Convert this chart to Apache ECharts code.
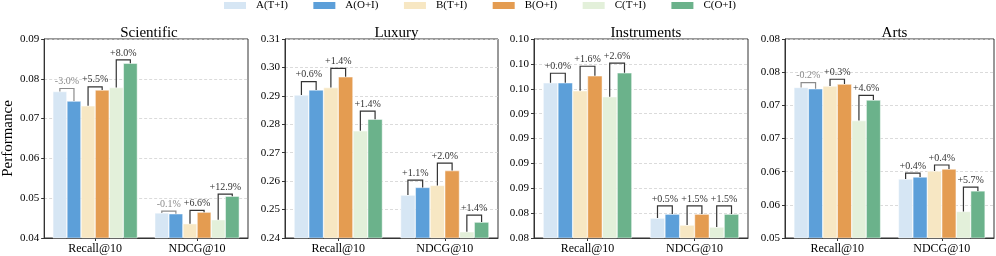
<!DOCTYPE html>
<html>
<head>
<meta charset="utf-8">
<script src="https://cdn.jsdelivr.net/npm/echarts@6/dist/echarts.min.js"></script>
<style>
html,body{margin:0;padding:0;background:#fff;}
#chart{width:996px;height:256px;}
</style>
</head>
<body>
<div id="chart"></div>
<script>
// ---- data ----
const categories = ['Recall@10', 'NDCG@10'];
const seriesNames = ['A(T+I)', 'A(O+I)', 'B(T+I)', 'B(O+I)', 'C(T+I)', 'C(O+I)'];
const panelTitles = ['Scientific', 'Luxury', 'Instruments', 'Arts'];

const sciRecall = [0.0768, 0.0744, 0.0732, 0.0772, 0.0778, 0.0839];
const sciNdcg   = [0.0463, 0.0461, 0.0436, 0.0465, 0.0446, 0.0505];
const luxRecall = [0.2903, 0.2921, 0.2929, 0.2967, 0.2777, 0.2818];
const luxNdcg   = [0.2551, 0.2578, 0.2585, 0.2637, 0.2422, 0.2456];
const insRecall = [0.0956, 0.0956, 0.0948, 0.0963, 0.0942, 0.0966];
const insNdcg   = [0.0820, 0.0824, 0.0813, 0.0824, 0.0811, 0.0824];
const artRecall = [0.0727, 0.0725, 0.0729, 0.0732, 0.0677, 0.0708];
const artNdcg   = [0.0589, 0.0592, 0.0601, 0.0604, 0.0540, 0.0571];

// pair labels: Recall (A,B,C) then NDCG (A,B,C)
const sciLabels = ['-3.0%', '+5.5%', '+8.0%', '-0.1%', '+6.6%', '+12.9%'];
const luxLabels = ['+0.6%', '+1.4%', '+1.4%', '+1.1%', '+2.0%', '+1.4%'];
const insLabels = ['+0.0%', '+1.6%', '+2.6%', '+0.5%', '+1.5%', '+1.5%'];
const artLabels = ['-0.2%', '+0.3%', '+4.6%', '+0.4%', '+0.4%', '+5.7%'];

// y axis ranges and tick labels
const sciY = [0.04, 0.09, 0.01];
const luxY = [0.24, 0.31, 0.01];
const insY = [0.08, 0.10, 0.0025];
const artY = [0.05, 0.08, 0.005];
const sciTicks = ['0.04', '0.05', '0.06', '0.07', '0.08', '0.09'];
const luxTicks = ['0.24', '0.25', '0.26', '0.27', '0.28', '0.29', '0.30', '0.31'];
const insTicks = ['0.08', '0.08', '0.09', '0.09', '0.09', '0.09', '0.10', '0.10', '0.10'];
const artTicks = ['0.05', '0.06', '0.06', '0.07', '0.07', '0.08', '0.08'];

// ---- styling / layout ----
const colors = ['#d6e6f4', '#5c9fd9', '#f7e7c3', '#e49c51', '#e3f0da', '#6bb28b'];
const FONT = '"Liberation Serif", "Times New Roman", serif';
const CAT_GAP = 0.17;
const panels = [
  {title: panelTitles[0], vals: [sciRecall, sciNdcg], labels: sciLabels, y: sciY, ticks: sciTicks, left: 40, width: 208},
  {title: panelTitles[1], vals: [luxRecall, luxNdcg], labels: luxLabels, y: luxY, ticks: luxTicks, left: 285, width: 213},
  {title: panelTitles[2], vals: [insRecall, insNdcg], labels: insLabels, y: insY, ticks: insTicks, left: 534, width: 214},
  {title: panelTitles[3], vals: [artRecall, artNdcg], labels: artLabels, y: artY, ticks: artTicks, left: 785, width: 209}
];
const TOP = 39, HEIGHT = 199;

const option = {
  animation: false,
  backgroundColor: '#fff',
  textStyle: {fontFamily: FONT},
  legend: {
    data: seriesNames, left: 222, top: 0, padding: 0, itemWidth: 24, itemHeight: 9, itemGap: 23.5,
    icon: 'rect',
    textStyle: {fontFamily: FONT, fontSize: 11, color: '#000', padding: [0, 0, 0, 4]}
  },
  title: [], grid: [], xAxis: [], yAxis: [], series: []
};

panels.forEach((pn, k) => {
  option.title.push({
    text: pn.title, left: pn.left + pn.width / 2, top: 21, textAlign: 'center',
    textStyle: {fontFamily: FONT, fontSize: 15, fontWeight: 'normal', color: '#000'}
  });
  option.grid.push({
    left: pn.left, top: TOP, width: pn.width, height: HEIGHT,
    show: true, borderColor: '#333', borderWidth: 1, backgroundColor: 'transparent'
  });
  option.xAxis.push({
    type: 'category', gridIndex: k, data: categories,
    axisLine: {lineStyle: {color: '#333'}},
    axisTick: {show: true, alignWithLabel: true, length: 3, lineStyle: {color: '#333'}},
    axisLabel: {fontFamily: FONT, fontSize: 12, color: '#000', margin: 5}
  });
  const [ymin, ymax, yint] = pn.y;
  option.yAxis.push({
    type: 'value', gridIndex: k, min: ymin, max: ymax, interval: yint,
    name: k === 0 ? 'Performance' : '', nameLocation: 'middle', nameGap: 28,
    nameTextStyle: {fontFamily: FONT, fontSize: 15, color: '#000'},
    axisLine: {show: true, lineStyle: {color: '#333'}},
    axisTick: {show: true, length: 3, lineStyle: {color: '#333'}},
    splitLine: {show: true, lineStyle: {color: '#d2d2d2', type: [3, 2], width: 0.8}},
    axisLabel: {
      fontFamily: FONT, fontSize: 11, color: '#000', margin: 5,
      formatter: (v) => pn.ticks[Math.round((v - ymin) / yint)] || ''
    }
  });
  seriesNames.forEach((nm, i) => {
    option.series.push({
      type: 'bar', name: nm, xAxisIndex: k, yAxisIndex: k,
      data: [pn.vals[0][i], pn.vals[1][i]],
      barGap: '0%', barCategoryGap: (CAT_GAP * 100) + '%',
      itemStyle: {color: colors[i], borderColor: '#fff', borderWidth: 0.5},
      z: 2
    });
  });
  // bracket series
  const bdata = [];
  for (let c = 0; c < 2; c++) {
    for (let p = 0; p < 3; p++) {
      bdata.push([c, p, pn.vals[c][2 * p], pn.vals[c][2 * p + 1]]);
    }
  }
  option.series.push({
    type: 'custom', xAxisIndex: k, yAxisIndex: k, z: 10, clip: false,
    encode: {x: 0, y: [2, 3]},
    data: bdata,
    renderItem: (params, api) => {
      const c = api.value(0), p = api.value(1), v1 = api.value(2), v2 = api.value(3);
      const label = pn.labels[c * 3 + p];
      const neg = label.charAt(0) === '-';
      const col = neg ? '#8c8c8c' : '#333';
      const bandW = api.size([1, 0])[0];
      const groupW = bandW * (1 - CAT_GAP);
      const barW = groupW / 6;
      const cx = api.coord([c, v1])[0];
      const x1 = cx - groupW / 2 + (2 * p + 0.5) * barW;
      const x2 = x1 + barW;
      const y1 = api.coord([c, v1])[1];
      const y2 = api.coord([c, v2])[1];
      const yb = api.coord([c, Math.max(v1, v2) * 1.01])[1];
      return {
        type: 'group',
        children: [
          {type: 'polyline', shape: {points: [[x1, y1], [x1, yb], [x2, yb], [x2, y2]]},
           style: {stroke: col, lineWidth: 1.2, fill: null}},
          {type: 'text', style: {text: label, x: (x1 + x2) / 2, y: yb - 2, align: 'center',
           verticalAlign: 'bottom', fontSize: 10, fontFamily: FONT, fill: col}}
        ]
      };
    }
  });
});

const chart = echarts.init(document.getElementById('chart'), null, {renderer: 'canvas'});
chart.setOption(option);
</script>
</body>
</html>
